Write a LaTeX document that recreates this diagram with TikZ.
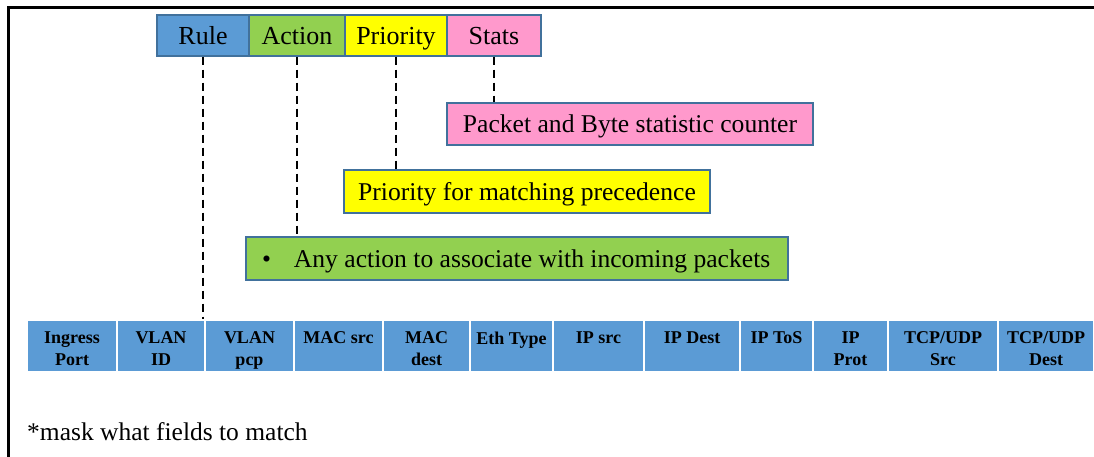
\documentclass[tikz,border=0pt]{standalone}
\usepackage{fontspec}
\setmainfont{Liberation Serif}
\definecolor{fieldblue}{HTML}{5B9BD5}
\definecolor{edgeblue}{HTML}{41719C}
\definecolor{actgreen}{HTML}{92D050}
\definecolor{prioyellow}{HTML}{FFFF00}
\definecolor{statpink}{HTML}{FF99CC}
\begin{document}
\begin{tikzpicture}[x=1pt,y=-1pt,
  hdr/.style={draw=edgeblue, line width=1.2pt, inner sep=0pt, minimum height=41pt,
    font=\fontsize{26}{30}\selectfont, text height=21pt, text depth=2pt},
  desc/.style={draw=edgeblue, line width=1.2pt, inner sep=0pt, minimum height=43pt,
    font=\fontsize{25.6}{30}\selectfont, text height=21pt, text depth=3pt},
  cell/.style={draw=white, line width=1.5pt, fill=fieldblue, minimum height=52pt, inner sep=0pt},
  celltext/.style={anchor=north, inner sep=0pt, align=center,
    font=\fontsize{18}{21.5}\selectfont\bfseries},
  link/.style={draw=black, line width=2pt, dash pattern=on 8pt off 5pt}]

\useasboundingbox (0,0) rectangle (1094,457);
\fill[white] (0,0) rectangle (1094,457);

% outer frame (top and left edges)
\draw[line width=3pt] (1094,8) -- (8,8) -- (8,457);

% flow entry header
\node[hdr, fill=fieldblue, minimum width=92pt]  (rule)     at (203,35.5) {Rule};
\node[hdr, fill=actgreen, minimum width=96pt]   (action)   at (297,35.5) {Action};
\node[hdr, fill=prioyellow, minimum width=102pt](priority) at (396,35.5) {Priority};
\node[hdr, fill=statpink, minimum width=94pt]   (stats)    at (494,35.5) {Stats};

% explanations
\node[desc, fill=statpink, minimum width=366pt, minimum height=42pt] (pkt) at (630,124) {Packet and Byte statistic counter};
\node[desc, fill=prioyellow, minimum width=366pt] (prio) at (527,191.5) {Priority for matching precedence};
\node[desc, fill=actgreen, minimum width=542pt]
  (anyact) at (517,258.5) {\makebox[510pt][l]{\textbullet\hspace{23pt}Any action to associate with incoming packets}};

% match fields
\foreach \l/\r/\t [count=\i] in {
  27/117/{Ingress\\Port}, 117/205/{VLAN\\ID}, 205/294/{VLAN\\pcp},
  294/383/{MAC src}, 383/470/{MAC\\dest}, 470/553/{Eth Type},
  553/644/{IP src}, 644/740/{IP Dest}, 740/813/{IP ToS},
  813/888/{IP\\Prot}, 888/998/{TCP/UDP\\Src}, 998/1094/{TCP/UDP\\Dest}} {
  \node[cell, minimum width={(\r-\l)*1pt}] (c\i) at ({(\l+\r)/2},346) {};
  \node[celltext] (t\i) at ([yshift=-12.5pt]c\i.north) {\t};
}

% connectors
\draw[link] (rule.south) -- (rule.south |- c3.north);
\draw[link] (action.south) -- (action.south |- anyact.north);
\draw[link] (priority.south) -- (priority.south |- prio.north);
\draw[link] (stats.south) -- (stats.south |- pkt.north);

\node[anchor=base west, inner sep=0pt, font=\fontsize{25.5}{30}\selectfont] (mask) at (27,440) {*mask what fields to match};
\end{tikzpicture}
\end{document}
